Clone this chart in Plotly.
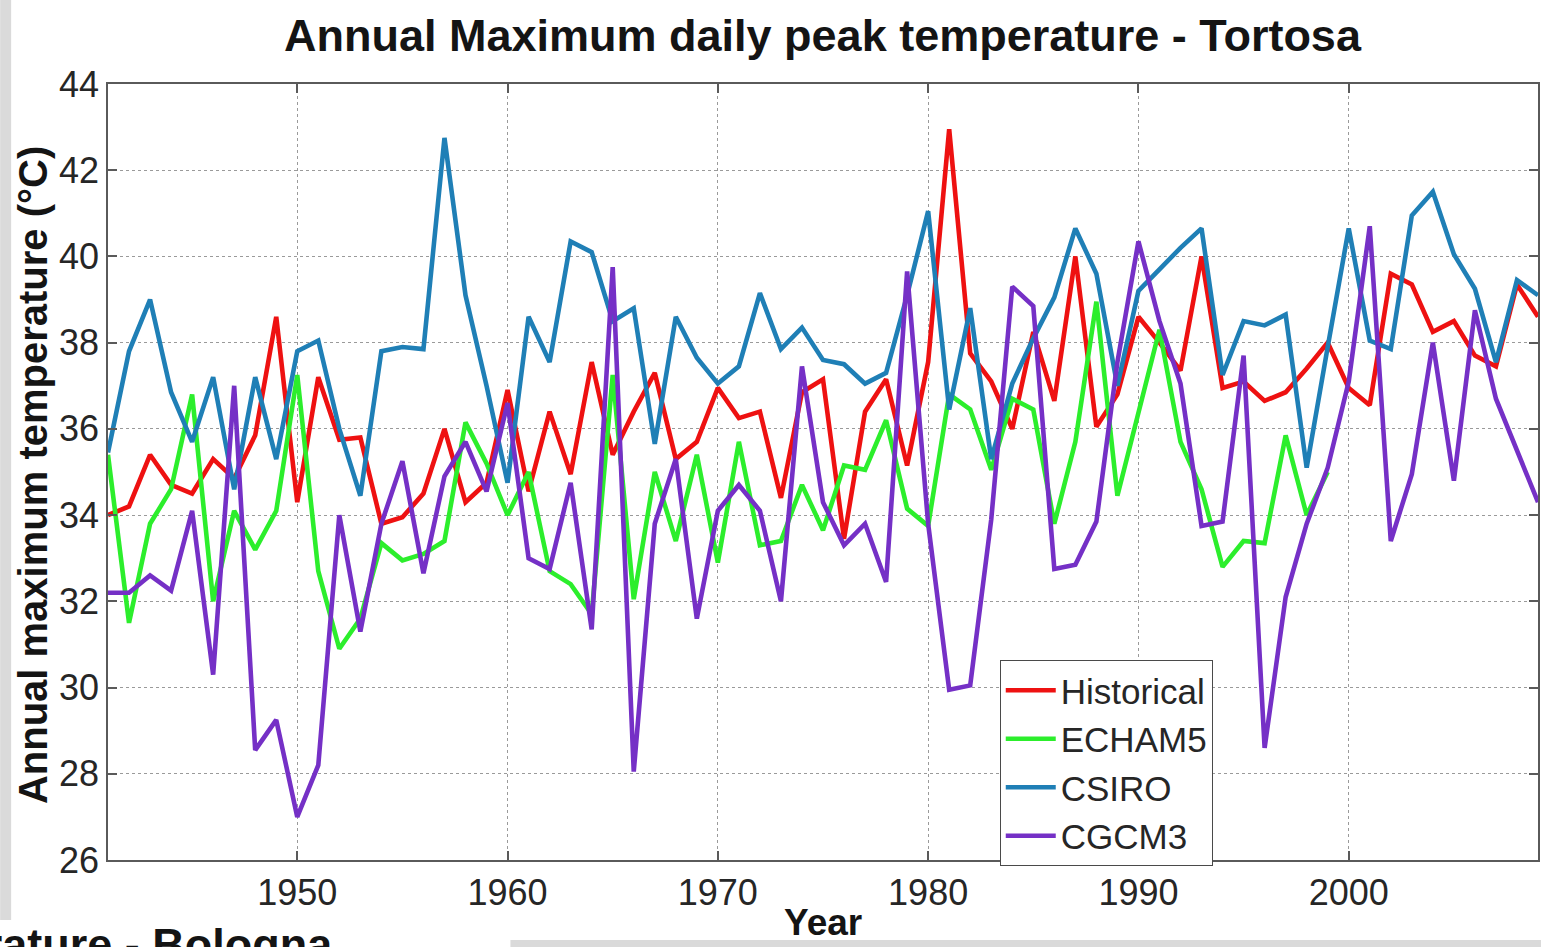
import plotly.graph_objects as go

# Annual maximum daily peak temperature at Tortosa (°C), 1941-2009
years = list(range(1941, 2010))

historical = [
    34.0, 34.2, 35.4, 34.7, 34.5, 35.3, 34.85, 35.85, 38.6, 34.3,
    37.2, 35.75, 35.8, 33.8, 33.95, 34.5, 36.0, 34.3, 34.75, 36.9,
    34.55, 36.4, 34.95, 37.55, 35.4, 36.4, 37.3, 35.3, 35.7, 36.95,
    36.25, 36.4, 34.4, 36.85, 37.15, 33.45, 36.4, 37.15, 35.15, 37.55,
    42.95, 37.75, 37.1, 36.0, 38.25, 36.65, 40.0, 36.05, 36.8, 38.6,
    38.0, 37.35, 40.0, 36.95, 37.1, 36.65, 36.85, 37.4, 38.0, 36.95,
    36.55, 39.6, 39.35, 38.25, 38.5, 37.7, 37.45, 39.35, 38.6,
]

echam5 = [
    35.4, 31.5, 33.8, 34.6, 36.8, 32.0, 34.1, 33.2, 34.1, 37.25,
    32.7, 30.9, 31.6, 33.35, 32.95, 33.1, 33.4, 36.15, 35.2, 34.0,
    35.0, 32.7, 32.4, 31.7, 37.25, 32.05, 35.0, 33.4, 35.4, 32.9,
    35.7, 33.3, 33.4, 34.7, 33.65, 35.15, 35.05, 36.2, 34.15, 33.75,
    36.8, 36.45, 35.05, 36.7, 36.45, 33.8, 35.7, 38.95, 34.45, 36.4,
    38.3, 35.7, 34.6, 32.8, 33.4, 33.35, 35.85, 34.0, 35.0, None,
    None, None, None, None, None, None, None, None, None,
]

csiro = [
    35.45, 37.8, 39.0, 36.85, 35.7, 37.2, 34.6, 37.2, 35.3, 37.8,
    38.05, 36.0, 34.45, 37.8, 37.9, 37.85, 42.75, 39.1, 37.0, 34.75,
    38.6, 37.55, 40.35, 40.1, 38.5, 38.8, 35.65, 38.6, 37.65, 37.05,
    37.45, 39.15, 37.85, 38.35, 37.6, 37.5, 37.05, 37.3, 39.1, 41.05,
    36.45, 38.8, 35.3, 37.05, 38.1, 39.05, 40.65, 39.6, 37.0, 39.2,
    39.7, 40.2, 40.65, 37.25, 38.5, 38.4, 38.65, 35.1, 37.9, 40.65,
    38.05, 37.85, 40.95, 41.5, 40.05, 39.25, 37.55, 39.45, 39.1,
]

cgcm3 = [
    32.2, 32.2, 32.6, 32.25, 34.1, 30.3, 37.0, 28.55, 29.25, 27.0,
    28.2, 34.0, 31.3, 33.8, 35.25, 32.65, 34.9, 35.7, 34.55, 36.6,
    33.0, 32.75, 34.75, 31.35, 39.75, 28.05, 33.8, 35.3, 31.6, 34.1,
    34.7, 34.1, 32.0, 37.45, 34.3, 33.3, 33.8, 32.45, 39.65, 33.8,
    29.95, 30.05, 33.9, 39.3, 38.85, 32.75, 32.85, 33.85, 37.55, 40.35,
    38.5, 37.05, 33.75, 33.85, 37.7, 28.6, 32.1, 33.8, 35.1, 37.1,
    40.7, 33.4, 34.95, 38.0, 34.8, 38.75, 36.7, 35.5, 34.3,
]

series_names = ["Historical", "ECHAM5", "CSIRO", "CGCM3"]
series_values = [historical, echam5, csiro, cgcm3]
series_colors = ["#ee1111", "#2cee2c", "#1f7fb6", "#7530c6"]

x_ticks = [1950, 1960, 1970, 1980, 1990, 2000]
y_ticks = [26, 28, 30, 32, 34, 36, 38, 40, 42, 44]

FONT = "Liberation Sans, Arial, sans-serif"
W, H = 1541, 947
L, R, T, B = 108, 1540, 84, 860  # plot area edges in pixels


def px(xp):
    return (xp - L) / (R - L)


def py(yp):
    return (B - yp) / (B - T)


fig = go.Figure()
for name, vals, col in zip(series_names, series_values, series_colors):
    fig.add_trace(go.Scatter(
        x=years, y=vals, mode="lines", name=name,
        line=dict(color=col, width=4.6), connectgaps=False,
    ))

axis_common = dict(
    showline=True, linecolor="#5a5a5a", linewidth=1.5, mirror="ticks",
    ticks="inside", ticklen=9, tickwidth=1.5, tickcolor="#5a5a5a",
    showgrid=True, gridcolor="#9a9a9a", gridwidth=1, griddash="dot",
    zeroline=False,
    tickfont=dict(family=FONT, size=36, color="#262626"),
)

fig.update_xaxes(range=[1941, 2009], tickvals=x_ticks, **axis_common)
fig.update_yaxes(range=[26, 44], tickvals=y_ticks, **axis_common)

# page edges: grey strip on the left and a grey bar at the bottom right
fig.add_shape(type="rect", xref="paper", yref="paper",
              x0=px(0), x1=px(11), y0=py(0), y1=py(920),
              fillcolor="#dadada", line_width=0, layer="below")
fig.add_shape(type="rect", xref="paper", yref="paper",
              x0=px(511), x1=px(1545), y0=py(940), y1=py(950),
              fillcolor="#dadada", line_width=0, layer="below")

annotations = [
    dict(text="<b>Annual Maximum daily peak temperature - Tortosa</b>",
         x=0.5, y=py(35), xanchor="center", yanchor="middle",
         font=dict(family=FONT, size=45, color="#141414")),
    dict(text="<b>Annual maximum temperature (°C)</b>",
         x=px(33), y=py(475), xanchor="center", yanchor="middle", textangle=-90,
         font=dict(family=FONT, size=40, color="#141414")),
    dict(text="<b>Year</b>",
         x=0.5, y=py(922), xanchor="center", yanchor="middle",
         font=dict(family=FONT, size=37, color="#141414")),
    # title of the next panel, cropped by the page edge
    dict(text="<b>Annual Maximum daily peak temperature - Bologna</b>",
         x=px(335), y=py(944), xanchor="right", yanchor="middle",
         font=dict(family=FONT, size=45, color="#141414")),
]
for a in annotations:
    a.update(xref="paper", yref="paper", showarrow=False)

fig.update_layout(
    width=W, height=H,
    margin=dict(l=L, r=W - R, t=T, b=H - B, pad=0),
    paper_bgcolor="white", plot_bgcolor="white",
    showlegend=True,
    legend=dict(
        x=px(1001), y=py(660), xanchor="left", yanchor="top",
        bgcolor="white", bordercolor="#4a4a4a", borderwidth=1,
        font=dict(family=FONT, size=35, color="#262626"),
        tracegroupgap=0, itemwidth=50,
    ),
    annotations=annotations,
)

fig.write_html("out.html")
